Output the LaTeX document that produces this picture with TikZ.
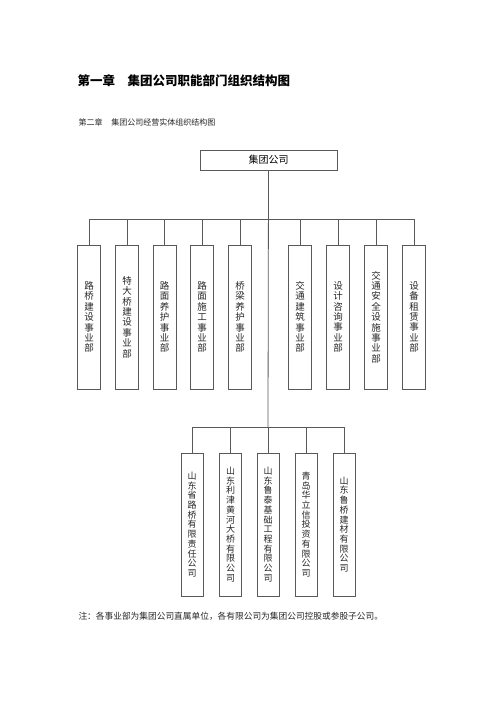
\documentclass[tikz,border=0pt]{standalone}
\usepackage{fontspec}
\setmainfont{Noto Sans CJK SC}
\lineskiplimit=-10pt

\ExplSyntaxOn
\NewDocumentCommand\stackchars{m}{\exp_args:No\tl_map_inline:nn{#1}{##1\par}}
\ExplSyntaxOff

\tikzset{
	headbox/.style={draw=black!65, line width=0.8pt, minimum width=137pt, minimum height=20pt, inner sep=0pt, font=\fontsize{10}{12}\selectfont},
	unitbox/.style={draw=black!65, line width=0.8pt, inner sep=0pt, text width=12pt, align=center, minimum width=23pt, minimum height=144pt, text=black!85},
	link/.style={draw=black!65, line width=0.8pt},
}

\begin{document}
\begin{tikzpicture}[x=1pt, y=-1pt]
	\useasboundingbox (0,0) rectangle (500,707);

	\node[anchor=west, font=\fontsize{12.5}{15}\selectfont\bfseries] (title) at (74,81) {第一章　集团公司职能部门组织结构图};
	\node[anchor=west, font=\fontsize{8}{10}\selectfont, text=black!85] (subtitle) at (75,122) {第二章\hspace{1.1em}集团公司经营实体组织结构图};

	\node[headbox] (boss) at (268.5,160) {集团公司};
	\coordinate (hub1) at (268,219);
	\coordinate (hub2) at (268,427);

	% departments
	\foreach \x/\name [count=\i] in {89/路桥建设事业部, 127/特大桥建设事业部, 164.5/路面养护事业部, 202/路面施工事业部, 240/桥梁养护事业部, 300/交通建筑事业部, 338/设计咨询事业部, 376/交通安全设施事业部, 414/设备租赁事业部}
		\node[unitbox, font=\fontsize{9.5}{10.4}\selectfont] (dep\i) at (\x,317) {\stackchars{\name}};

	% companies
	\foreach \x/\name [count=\i] in {192/山东省路桥有限责任公司, 230.5/山东利津黄河大桥有限公司, 268/山东鲁泰基础工程有限公司, 306/青岛华立信投资有限公司, 344/山东鲁桥建材有限公司}
		\node[unitbox, minimum width=22pt, minimum height=143pt, font=\fontsize{9}{9.7}\selectfont] (ent\i) at (\x,524.5) {\stackchars{\name}};

	\draw[link] (boss.south) -- (hub2);
	\foreach \i in {1,...,9}
		\draw[link] (hub1) -| (dep\i.north);
	\foreach \i in {1,...,5}
		\draw[link] (hub2) -| (ent\i.north);

	\node[anchor=west, font=\fontsize{8.7}{10}\selectfont, text=black!85] (note) at (75,616) {注：各事业部为集团公司直属单位，各有限公司为集团公司控股或参股子公司。};
\end{tikzpicture}
\end{document}
